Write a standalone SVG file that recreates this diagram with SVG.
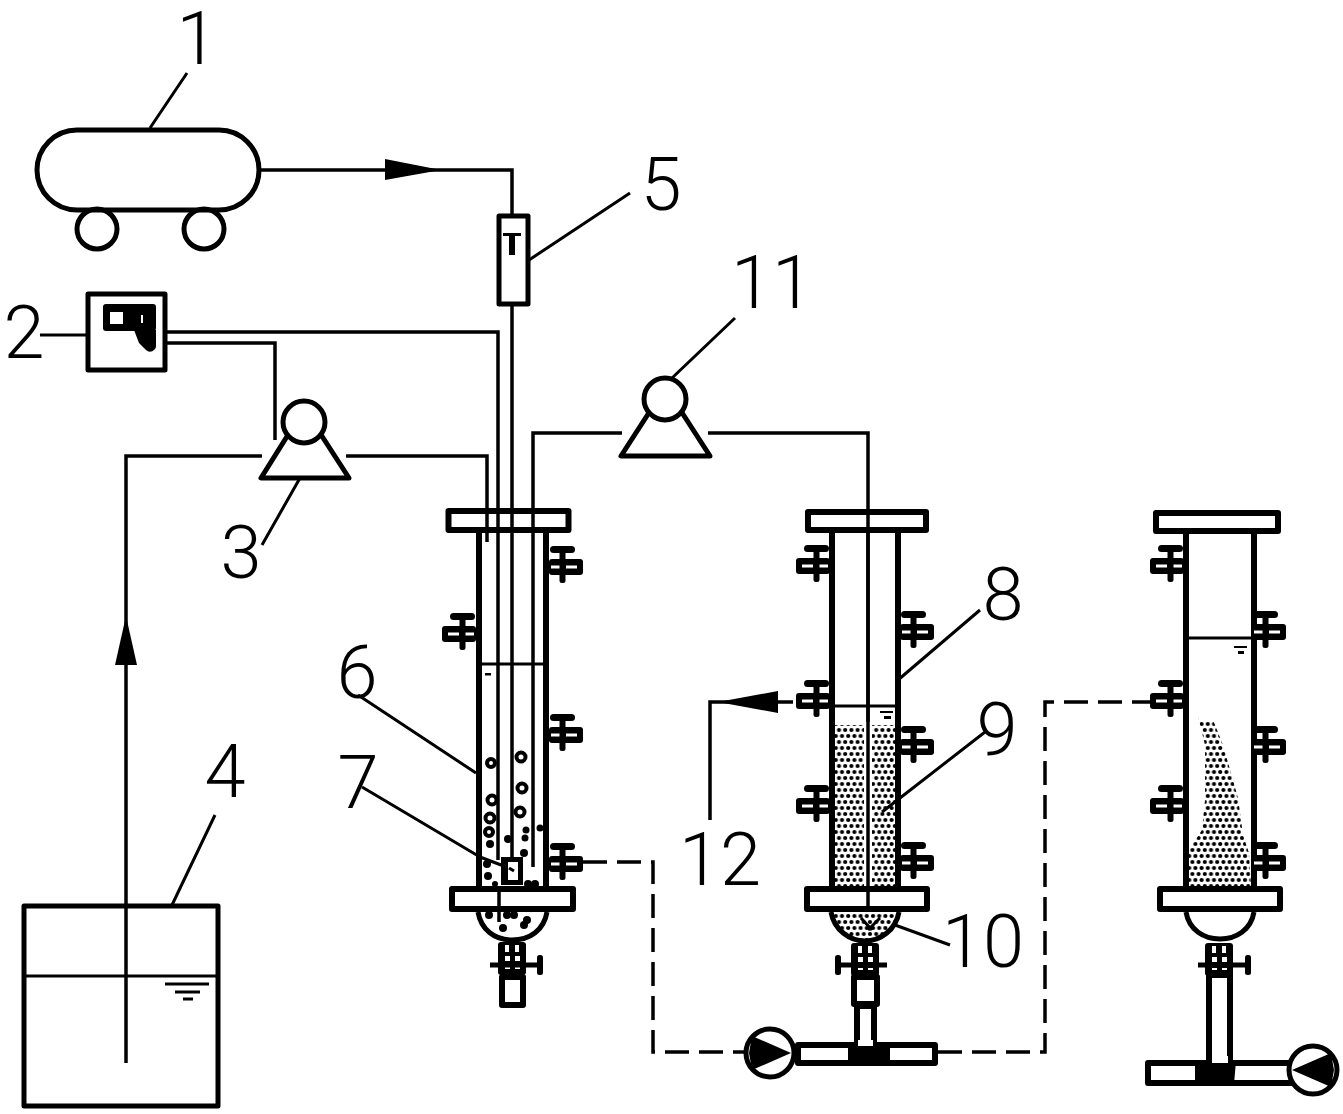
<svg xmlns="http://www.w3.org/2000/svg" width="1343" height="1114" viewBox="0 0 1343 1114">
<style>
.o{fill:none;stroke:#000;stroke-width:5;stroke-linejoin:round}
.wf{fill:#fff}
.w{fill:#fff;stroke:#000;stroke-width:6;stroke-linejoin:round}
.f{fill:none;stroke:#000;stroke-width:6;stroke-linejoin:round}
.p{fill:none;stroke:#000;stroke-width:3.500}
.d{fill:none;stroke:#000;stroke-width:3.500;stroke-dasharray:24 10}
.l{fill:none;stroke:#000;stroke-width:3}
.k{fill:#000}
.n{font-family:"Roboto","Liberation Sans",sans-serif;font-weight:300;font-size:74px;fill:#000;text-anchor:middle}
.b{fill:#fff;stroke:#000;stroke-width:4}
</style>
<defs>
<pattern id="sand" width="12.4" height="12" patternUnits="userSpaceOnUse" x="2" y="1">
<circle cx="3" cy="3" r="2.100"/><circle cx="9.200" cy="3" r="2.100"/><circle cx="0" cy="9" r="2.100"/><circle cx="6.200" cy="9" r="2.100"/><circle cx="12.400" cy="9" r="2.100"/>
</pattern>
<g id="valve">
<rect x="0" y="-8" width="34" height="16" rx="3" class="k"/>
<rect x="2" y="-1.500" width="10" height="3" fill="#fff"/>
<rect x="17" y="-1.500" width="11" height="3" fill="#fff"/>
<rect x="1" y="-21" width="25" height="7" rx="3.500" class="k"/>
<rect x="10.500" y="-20" width="6" height="36" rx="2.500" class="k"/>
</g>
<g id="neck">
<rect x="-14" y="0" width="28" height="33" rx="3" class="k"/>
<rect x="-7" y="3" width="4" height="7" fill="#fff"/><rect x="3" y="3" width="4" height="7" fill="#fff"/>
<rect x="-7" y="14" width="5" height="5" fill="#fff"/><rect x="3" y="14" width="5" height="5" fill="#fff"/>
<rect x="-7" y="25" width="5" height="2" fill="#fff"/><rect x="3" y="25" width="5" height="2" fill="#fff"/>
</g>
</defs>
<rect width="1343" height="1114" fill="#fff"/>

<g id="connectors">
<path class="p" d="M260 170H512V216M512 304V858"/>
<path class="k" d="M385 159L441 170L385 180Z"/>
<path class="p" d="M166 332H498V860"/>
<path class="p" d="M166 343H275V440"/>
<path class="p" d="M126 1063V456H262M346 456H487V542"/>
<path class="k" d="M126 616L137 665H115Z"/>
<path class="p" d="M533 867V433H622M708 433H868V886"/>
<path class="p" d="M793 702H710V820"/>
<path class="k" d="M718 702L778 691V713Z"/>
<path class="d" d="M583 862H653V1052H745"/>
<path class="d" d="M938 1052H1045V702H1150"/>
<path class="l" d="M150 128L187 73M40 335H86M262 545L300 478M526 262L630 193M672 378L735 318M476 773L358 695M480 857L362 787M509 868L480 857M898 680L980 610M882 812L985 732M895 925L950 945M172 905L215 815"/>
</g>

<g id="node-1">
<rect class="o" x="37" y="130" width="222" height="80" rx="40"/>
<circle class="o" cx="97" cy="229" r="20"/><circle class="o" cx="204" cy="229" r="20"/>
<text class="n" x="197" y="64">1</text>
</g>
<g id="node-2">
<rect class="o" x="88" y="294" width="77" height="76"/>
<rect x="103" y="304" width="53" height="27" rx="3" class="k"/>
<rect x="110" y="312" width="13" height="12" fill="#fff"/>
<rect x="141" y="315" width="2" height="8" fill="#fff"/>
<path d="M134 330H156V345A6 6 0 0 1 146 350L139 343Z" class="k"/>
<text class="n" x="24" y="358">2</text>
</g>
<g id="node-3">
<path class="o" d="M261 478H349L318 430H291Z" style="fill:#fff"/>
<circle class="o" cx="304" cy="422" r="21" style="fill:#fff"/>
<text class="n" x="241" y="578">3</text>
</g>
<g id="node-4">
<rect class="o" x="24" y="906" width="194" height="200"/>
<path class="l" d="M24 976H218"/>
<path class="l" d="M165 984H209M175 992H200M183 999H193"/>
<text class="n" x="225" y="797">4</text>
</g>
<g id="node-5">
<rect x="499" y="216" width="29" height="88" class="o" style="fill:#fff"/>
<path d="M503 233H521V236H515V255H509V236H503Z" class="k"/>
<text class="n" x="661" y="210">5</text>
</g>
<g id="node-11">
<path class="o" d="M621 456H710L679 408H652Z" style="fill:#fff"/>
<circle class="o" cx="665" cy="399" r="21" style="fill:#fff"/>
<text class="n" x="772" y="308">11</text>
</g>

<g id="node-6">
<path class="f" d="M479 532V888M546 532V888"/>
<path class="l" d="M476 664H548"/>
<rect x="485" y="673" width="6" height="2.500" class="k"/>
<g class="b"><circle cx="491" cy="763" r="4"/><circle cx="521" cy="757" r="4.500"/><circle cx="522" cy="788" r="4.500"/><circle cx="492" cy="800" r="4.500"/><circle cx="520" cy="812" r="4.500"/><circle cx="490" cy="818" r="4.500"/><circle cx="489" cy="832" r="4"/></g>
<g class="k"><circle cx="490" cy="844" r="4"/><circle cx="508" cy="839" r="4"/><circle cx="526" cy="830" r="3.500"/><circle cx="525" cy="838" r="3.500"/><circle cx="524" cy="853" r="4"/><circle cx="487" cy="864" r="4"/><circle cx="488" cy="876" r="4"/><circle cx="540" cy="828" r="3.500"/><circle cx="495" cy="884" r="3"/><circle cx="528" cy="884" r="4"/><circle cx="535" cy="884" r="4"/></g>
<rect class="f" x="448.500" y="511" width="120" height="19"/>
<rect class="w" x="452" y="889" width="121" height="20"/>
<path class="o" d="M478 912C481 930 495 940 512 940C530 940 544 930 547 912" style="fill:#fff"/>
<path class="p" d="M499 886V922"/>
<g class="k"><circle cx="489" cy="915" r="4"/><circle cx="507" cy="915" r="4"/><circle cx="514" cy="915" r="4"/><circle cx="527" cy="920" r="4"/><circle cx="524" cy="925" r="4"/><circle cx="503" cy="928" r="4"/></g>
<use href="#neck" x="512" y="942"/>
<rect class="f" x="502" y="977" width="21" height="28" style="fill:#fff"/>
<path d="M490 965H538" stroke="#000" stroke-width="5"/><rect x="537" y="955" width="6" height="20" rx="2.500" class="k"/>
<use href="#valve" x="549" y="567"/>
<use href="#valve" x="549" y="735"/>
<use href="#valve" x="549" y="864"/>
<use href="#valve" transform="translate(476 634) scale(-1 1)"/>
<text class="n" x="357" y="698">6</text>
</g>
<g id="node-7">
<rect x="501" y="857" width="22" height="28" class="k"/>
<rect x="508" y="862" width="10" height="18" fill="#fff"/>
<path class="l" d="M509 868L514 871"/>
<text class="n" x="358" y="808">7</text>
</g>

<g id="node-8">
<rect x="834" y="725" width="62" height="161" fill="url(#sand)"/>
<path d="M868 722V888" stroke="#fff" stroke-width="8"/>
<path class="f" d="M832 532V888M898 532V888"/>
<path class="l" d="M830 706H900"/>
<path class="k" d="M880 711H893V713H880ZM884 716H891V719H884Z"/>
<rect class="f" x="808" y="512" width="118" height="18"/>
<rect class="w" x="807" y="889" width="120" height="20"/>
<path class="o" d="M831 912C834 930 850 941 865 941C880 941 896 930 899 912" style="fill:url(#sand)"/>
<path class="l" d="M861 918L872 930M880 918L868 930"/>
<use href="#neck" x="865" y="943"/>
<rect class="f" x="854" y="977" width="23" height="27" style="fill:#fff"/>
<rect class="f" x="857" y="1006" width="17" height="40" style="fill:#fff"/>
<path d="M840 965H887" stroke="#000" stroke-width="5"/><rect x="835" y="955" width="6" height="20" rx="2.500" class="k"/>
<path class="p" d="M868 532V909"/>
<use href="#valve" x="900" y="632"/>
<use href="#valve" x="900" y="747"/>
<use href="#valve" x="900" y="863"/>
<use href="#valve" transform="translate(830 566) scale(-1 1)"/>
<use href="#valve" transform="translate(830 701) scale(-1 1)"/>
<use href="#valve" transform="translate(830 806) scale(-1 1)"/>
<text class="n" x="1003" y="620">8</text>
<text class="n" x="997" y="755">9</text>
<text class="n" x="983" y="967">10</text>
<text class="n" x="720" y="885">12</text>
</g>

<g id="pump-a">
<rect class="w" x="798" y="1045" width="137" height="18"/>
<path class="k" d="M848 1043H890V1066H848Z"/>
<rect x="855" y="1041" width="22" height="7" class="k"/>
<rect x="858" y="1040" width="15" height="6" fill="#fff"/>
<circle cx="770" cy="1053" r="24" fill="#fff" stroke="#000" stroke-width="5"/>
<path class="k" d="M752 1036L791 1053L752 1070L749 1053Z"/>
</g>

<g id="node-col3">
<path d="M1196 708L1199 720L1213 720L1223 745L1238 798L1243 835L1249 853L1251 886H1188V853L1192 845L1202 830L1205 800L1205 745Z" fill="url(#sand)"/>
<path class="f" d="M1186 532V888M1254 532V888"/>
<path class="l" d="M1186 638H1254"/>
<path class="k" d="M1234 646H1247V648H1234ZM1238 651H1244V654H1238Z"/>
<rect class="f" x="1156" y="513" width="122" height="18"/>
<rect class="w" x="1160" y="889" width="120" height="20"/>
<path class="o" d="M1186 912C1189 930 1204 939 1220 939C1236 939 1251 930 1254 912" style="fill:#fff"/>
<use href="#neck" x="1219" y="943"/>
<rect class="f" x="1209" y="975" width="21" height="87" style="fill:#fff"/>
<path d="M1198 965H1250" stroke="#000" stroke-width="5"/><rect x="1245" y="955" width="6" height="20" rx="2.500" class="k"/>
<use href="#valve" x="1252" y="632"/>
<use href="#valve" x="1252" y="747"/>
<use href="#valve" x="1252" y="863"/>
<use href="#valve" transform="translate(1184 566) scale(-1 1)"/>
<use href="#valve" transform="translate(1184 701) scale(-1 1)"/>
<use href="#valve" transform="translate(1184 806) scale(-1 1)"/>
</g>
<g id="pump-b">
<rect class="w" x="1148" y="1063" width="146" height="20"/>
<path class="k" d="M1195 1061H1236L1234 1084H1195Z"/>
<rect x="1212" y="1056" width="16" height="7" fill="#fff"/>
<circle cx="1313" cy="1070" r="24" fill="#fff" stroke="#000" stroke-width="5"/>
<path class="k" d="M1331 1053L1292 1070L1331 1087L1334 1070Z"/>
</g>
</svg>
